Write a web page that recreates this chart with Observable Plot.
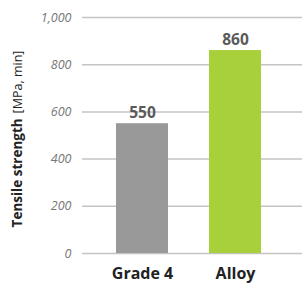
<!DOCTYPE html>
<html><head><meta charset="utf-8">
<script src="https://cdn.jsdelivr.net/npm/d3@7"></script>
<script src="https://cdn.jsdelivr.net/npm/@observablehq/plot@0.6"></script>
<style>
body{margin:0;background:#fff;}
#chart svg{display:block;}
</style></head>
<body><div id="chart"></div>
<script>
const categories = ["Grade 4", "Alloy"];
const values = [550, 860];
const colors = ["#999999", "#a8d03a"];
const yTicks = [0, 200, 400, 600, 800, 1000];
const yLabelBold = "Tensile strength";
const yLabelUnit = "[MPa, min]";

const data = categories.map((c, i) => ({cat: c, v: values[i], color: colors[i]}));

const chart = Plot.plot({
  width: 302, height: 284,
  marginLeft: 82, marginRight: 0, marginTop: 17, marginBottom: 31,
  style: {fontFamily: "Open Sans", background: "#fff"},
  x: {domain: categories, paddingInner: 0.44, paddingOuter: 0.4, align: 0.46},
  y: {domain: [0, 1000]},
  marks: [
    Plot.ruleY(yTicks, {stroke: "#c4c4c4", strokeWidth: 1.5}),
    Plot.barY(data, {x: "cat", y: "v", fill: "color"}),
    Plot.text(data, {x: "cat", y: "v", text: d => String(d.v), dy: -11, fontSize: 15.5, fill: "#5a5a5a", fontWeight: "bold"}),
    Plot.axisY(yTicks, {tickSize: 0, tickPadding: 11, label: null, fontSize: 12.5, fontStyle: "italic", fill: "#777",
      tickFormat: d => d3.format(",")(d)}),
    Plot.axisX({tickSize: 0, tickPadding: 14, label: null, fontSize: 16, fontWeight: "bold", fill: "#222"})
  ]
});

const svg = d3.select(chart);
const t = svg.append("text")
  .attr("transform", "translate(22,139) rotate(-90)")
  .attr("text-anchor", "middle")
  .attr("font-family", "Open Sans")
  .attr("fill", "#222");
t.append("tspan").attr("font-weight", "bold").attr("font-size", 13.5).text(yLabelBold);
t.append("tspan").attr("font-size", 12.5).attr("dx", 5).text(yLabelUnit);

document.getElementById("chart").appendChild(chart);
</script></body></html>
